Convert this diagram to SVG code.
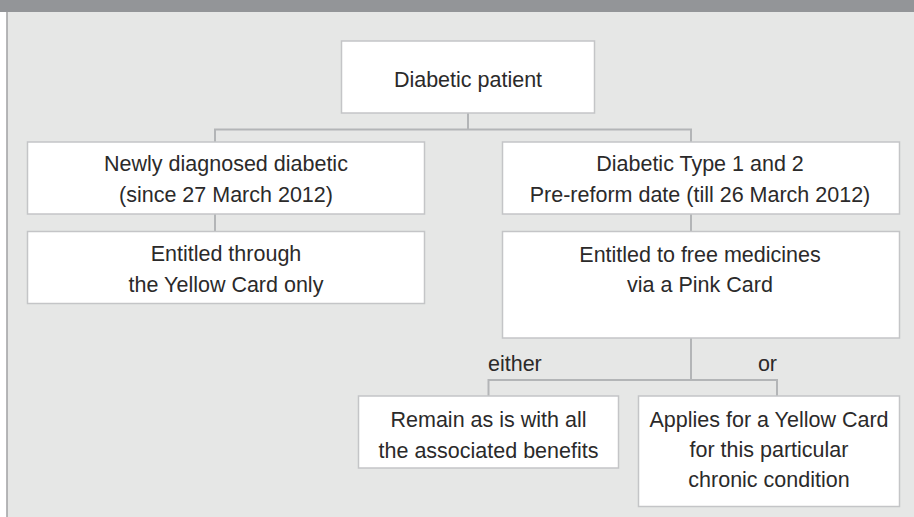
<svg xmlns="http://www.w3.org/2000/svg" width="914" height="517" viewBox="0 0 914 517">
<style>
.box{fill:#ffffff;stroke:#c4c5c7;stroke-width:1.5}
.t{font-family:"Liberation Sans",Arial,sans-serif;font-size:21.5px;fill:#2b2a2a;text-anchor:middle}
.lbl{font-family:"Liberation Sans",Arial,sans-serif;font-size:21.5px;fill:#2b2a2a}
.c{fill:none;stroke:#b3b5b7;stroke-width:2}
</style>
<rect x="0" y="0" width="914" height="517" fill="#ffffff"/>
<rect x="7" y="12" width="907" height="505" fill="#e6e7e6"/>
<line x1="7" y1="12" x2="7" y2="517" stroke="#a5a6a8" stroke-width="1.6"/>
<rect x="0" y="0" width="914" height="12" fill="#939598"/>
<g id="connectors">
<path class="c" d="M468 113V129.5M215 142V129.5H691V142"/>
<path class="c" d="M215 214V231.5"/>
<path class="c" d="M691 214V231.5"/>
<path class="c" d="M691 338V380M488.5 396V380H777V396"/>
<text class="lbl" x="488" y="371">either</text>
<text class="lbl" x="777" y="371" text-anchor="end">or</text>
</g>
<g id="n-diabetic-patient">
<rect class="box" x="341.5" y="41" width="253" height="72"/>
<text class="t" x="468" y="86.5">Diabetic patient</text>
</g>
<g id="n-newly-diagnosed">
<rect class="box" x="27.5" y="142" width="397" height="72"/>
<text class="t" x="226" y="171">Newly diagnosed diabetic</text>
<text class="t" x="226" y="202">(since 27 March 2012)</text>
</g>
<g id="n-yellow-card-only">
<rect class="box" x="27.5" y="231.5" width="397" height="72"/>
<text class="t" x="226" y="261">Entitled through</text>
<text class="t" x="226" y="291.5">the Yellow Card only</text>
</g>
<g id="n-type-1-2">
<rect class="box" x="502.5" y="142" width="397" height="72"/>
<text class="t" x="700" y="171">Diabetic Type 1 and 2</text>
<text class="t" x="700" y="202">Pre-reform date (till 26 March 2012)</text>
</g>
<g id="n-pink-card">
<rect class="box" x="502.5" y="231.5" width="397" height="106.5"/>
<text class="t" x="700" y="261.5">Entitled to free medicines</text>
<text class="t" x="700" y="292">via a Pink Card</text>
</g>
<g id="n-remain">
<rect class="box" x="358.5" y="396" width="260" height="72"/>
<text class="t" x="488.5" y="426.5">Remain as is with all</text>
<text class="t" x="488.5" y="458">the associated benefits</text>
</g>
<g id="n-applies-yellow">
<rect class="box" x="638.5" y="396" width="261" height="110.5"/>
<text class="t" x="769" y="426.5">Applies for a Yellow Card</text>
<text class="t" x="769" y="456.5">for this particular</text>
<text class="t" x="769" y="486.5">chronic condition</text>
</g>
</svg>
